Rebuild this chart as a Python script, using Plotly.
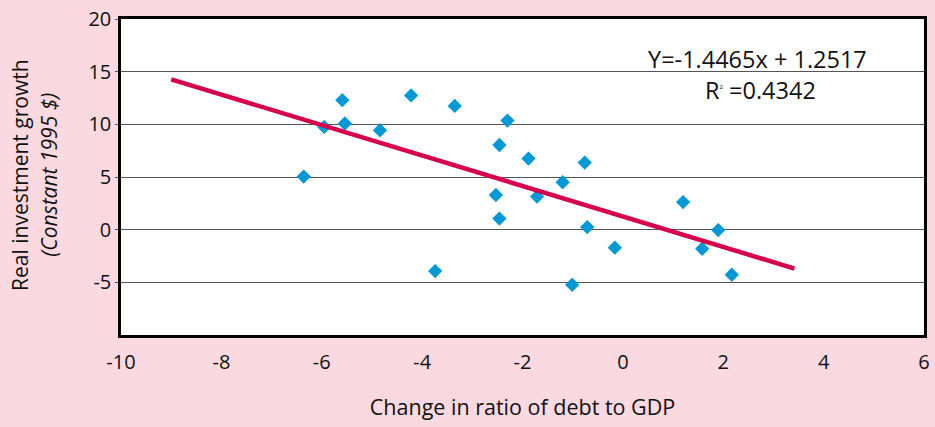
import plotly.graph_objects as go

# Scatter data: change in ratio of debt to GDP vs real investment growth
debt_change = [-6.36, -5.95, -5.59, -5.54, -4.84, -4.22, -3.74, -3.35, -2.53, -2.46,
               -2.46, -2.30, -1.88, -1.71, -1.20, -1.01, -0.76, -0.71, -0.16, 1.20,
               1.58, 1.90, 2.17]
invest_growth = [5.04, 9.75, 12.29, 10.08, 9.44, 12.74, -3.93, 11.75, 3.29, 8.04,
                 1.05, 10.36, 6.75, 3.14, 4.50, -5.23, 6.37, 0.25, -1.71, 2.62,
                 -1.81, -0.04, -4.28]

# Regression line
slope = -1.4465
intercept = 1.2517
fit_x = [-9.0, 3.42]
fit_y = [slope * v + intercept for v in fit_x]

x_ticks = [-10, -8, -6, -4, -2, 0, 2, 4, 6]
y_ticks = [-5, 0, 5, 10, 15, 20]

PINK = "#fbd9e0"
FONT = "Open Sans"
INK = "#111111"

fig = go.Figure()
fig.add_trace(go.Scatter(
    x=debt_change, y=invest_growth, mode="markers",
    marker=dict(symbol="diamond", size=11, color="#0099d8", line=dict(width=0)),
    showlegend=False,
))
fig.add_trace(go.Scatter(
    x=fit_x, y=fit_y, mode="lines",
    line=dict(color="#d6004f", width=4.5),
    showlegend=False,
))

fig.add_annotation(x=2.68, y=16.2, xref="x", yref="y", showarrow=False,
                   text="Y=-1.4465x + 1.2517",
                   font=dict(family=FONT, size=23.5, color=INK))
fig.add_annotation(x=2.74, y=13.3, xref="x", yref="y", showarrow=False,
                   text="R<sup><span style='font-size:6px'>2</span></sup> =0.4342",
                   font=dict(family=FONT, size=23.5, color=INK))

# Y-axis title as two rotated lines
fig.add_annotation(x=-0.1260, y=0.506, xref="paper", yref="paper", showarrow=False,
                   text="Real investment growth", textangle=-90,
                   xanchor="center", yanchor="middle",
                   font=dict(family=FONT, size=21, color=INK))
fig.add_annotation(x=-0.0890, y=0.506, xref="paper", yref="paper", showarrow=False,
                   text="<i>(Constant 1995 $)</i>", textangle=-90,
                   xanchor="center", yanchor="middle",
                   font=dict(family=FONT, size=21, color=INK))

fig.update_layout(
    width=935, height=427,
    margin=dict(l=121, r=5, t=19, b=92),
    paper_bgcolor=PINK, plot_bgcolor="white",
    font=dict(family=FONT, size=19, color=INK),
    xaxis=dict(
        range=[-10, 6], tickvals=x_ticks, ticktext=[str(v) for v in x_ticks],
        showgrid=False, zeroline=False,
        showline=True, mirror=True, linecolor="black", linewidth=2.5,
        ticks="", ticklabelstandoff=7,
        tickfont=dict(family=FONT, size=20),
        title=dict(text="Change in ratio of debt to GDP", standoff=27,
                   font=dict(family=FONT, size=21.5)),
    ),
    yaxis=dict(
        range=[-10, 20], tickvals=y_ticks, ticktext=[str(v) for v in y_ticks],
        showgrid=True, gridcolor="#555555", gridwidth=1, zeroline=False,
        showline=True, mirror=True, linecolor="black", linewidth=2.5,
        ticks="outside", ticklen=3, tickcolor="#555555",
        tickfont=dict(family=FONT, size=20),
    ),
)

fig.write_html("out.html")
